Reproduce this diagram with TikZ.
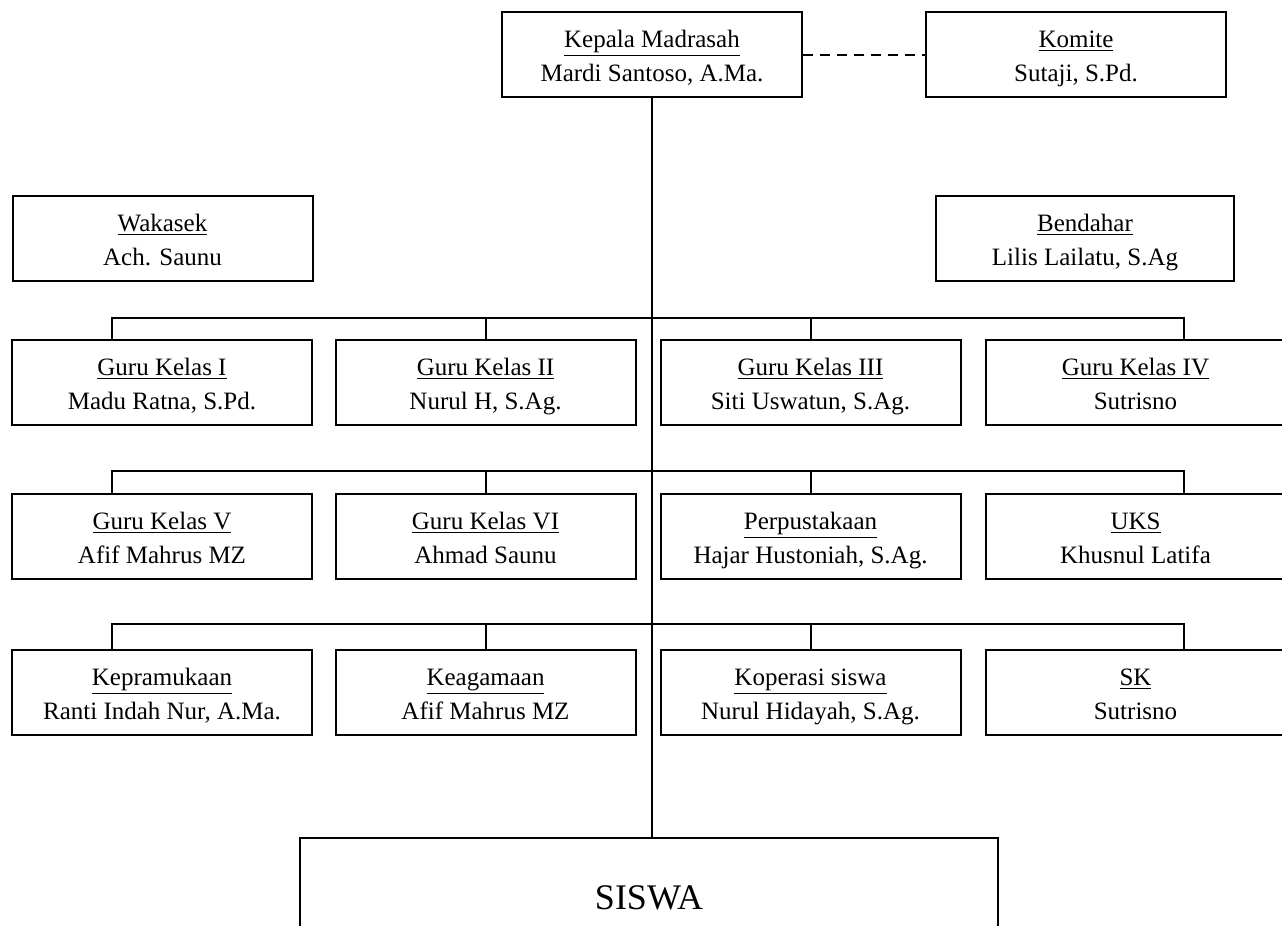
\documentclass[tikz,border=0pt]{standalone}
\usepackage{fontspec}
\setmainfont{Liberation Serif}
\usepackage{tikz}
\usetikzlibrary{positioning}

\newcommand{\post}[2]{\rule{0pt}{12.5pt}\underline{#1}\\#2\rule[-3pt]{0pt}{3pt}}

\begin{document}
\begin{tikzpicture}[x=0.5pt, y=-0.5pt,
                    unit/.style={draw, line width=1pt, minimum width=150pt, minimum height=42.5pt,
                                 inner sep=0pt, align=center, font=\fontsize{12.5}{17}\selectfont},
                    link/.style={line width=1pt, black},
                    mydash/.style={line width=1pt, dash pattern=on 5pt off 3.5pt, black},
                   ]

\useasboundingbox (0,0) rectangle (1282,926);

% top level
\node[unit] (kepala) at (652,54.5) {\post{Kepala Madrasah}{Mardi Santoso, A.Ma.}};
\node[unit] (komite) at (1076,54.5) {\post{Komite}{Sutaji, S.Pd.}};
\node[unit] (wakasek) at (162.5,238.5) {\post{Wakasek}{Ach. Saunu}};
\node[unit, minimum width=149pt] (bendahara) at (1085,238.5) {\post{Bendahar}{Lilis Lailatu, S.Ag}};

% row 1
\node[unit] (kelasI) at (162,382.5) {\post{Guru Kelas I}{Madu Ratna, S.Pd.}};
\node[unit] (kelasII) at (485.5,382.5) {\post{Guru Kelas II}{Nurul H, S.Ag.}};
\node[unit] (kelasIII) at (810.5,382.5) {\post{Guru Kelas III}{Siti Uswatun, S.Ag.}};
\node[unit] (kelasIV) at (1135.5,382.5) {\post{Guru Kelas IV}{Sutrisno}};

% row 2
\node[unit] (kelasV) at (162,536.5) {\post{Guru Kelas V}{Afif Mahrus MZ}};
\node[unit] (kelasVI) at (485.5,536.5) {\post{Guru Kelas VI}{Ahmad Saunu}};
\node[unit] (pustaka) at (810.5,536.5) {\post{Perpustakaan}{Hajar Hustoniah, S.Ag.}};
\node[unit] (uks) at (1135.5,536.5) {\post{UKS}{Khusnul Latifa}};

% row 3
\node[unit] (pramuka) at (162,692.5) {\post{Kepramukaan}{Ranti Indah Nur, A.Ma.}};
\node[unit] (agama) at (485.5,692.5) {\post{Keagamaan}{Afif Mahrus MZ}};
\node[unit] (koperasi) at (810.5,692.5) {\post{Koperasi siswa}{Nurul Hidayah, S.Ag.}};
\node[unit] (sk) at (1135.5,692.5) {\post{SK}{Sutrisno}};

% students
\node[draw, line width=1pt, minimum width=349pt, minimum height=60pt, inner sep=0pt,
      font=\fontsize{18}{20}\selectfont] (siswa) at (649,898) {SISWA};

% connectors
\draw[mydash] (kepala.east) -- (komite.west);
\draw[link] (kepala.south) -- (kepala.south |- siswa.north);

\coordinate (busA) at (112,318);
\coordinate (busB) at (1184,318);
\coordinate (busC) at (112,471);
\coordinate (busD) at (1184,471);
\coordinate (busE) at (112,624);
\coordinate (busF) at (1184,624);

\draw[link] (busA |- kelasI.north) -- (busA) -- (busB) -- (busB |- kelasIV.north);
\draw[link] (kelasII.north) -- (kelasII.north |- busA);
\draw[link] (kelasIII.north) -- (kelasIII.north |- busA);

\draw[link] (busC |- kelasV.north) -- (busC) -- (busD) -- (busD |- uks.north);
\draw[link] (kelasVI.north) -- (kelasVI.north |- busC);
\draw[link] (pustaka.north) -- (pustaka.north |- busC);

\draw[link] (busE |- pramuka.north) -- (busE) -- (busF) -- (busF |- sk.north);
\draw[link] (agama.north) -- (agama.north |- busE);
\draw[link] (koperasi.north) -- (koperasi.north |- busE);

\end{tikzpicture}
\end{document}
